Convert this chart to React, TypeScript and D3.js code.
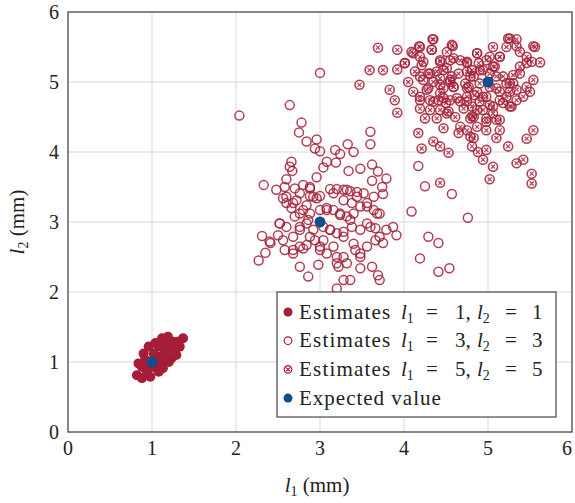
import React, { useEffect, useRef } from "react";
import * as d3 from "d3";

// estimates for l1 = 1, l2 = 1 (filled)
const est1: [number, number][] = [
  [0.84, 0.98], [0.82, 0.81], [0.88, 0.77], [0.94, 0.86], [0.92, 1.03], [0.96, 1.22],
  [1.02, 0.93], [1.08, 0.86], [1.13, 0.91], [1.1, 1.08], [1.15, 1.17], [1.12, 1.34],
  [1.19, 1.36], [1.25, 1.29], [1.27, 1.17], [1.23, 1.05], [1.2, 1.0], [1.37, 1.34],
  [1.31, 1.29], [1.04, 1.27], [1.02, 1.12], [1.17, 1.27], [1.29, 1.1], [1.06, 1.0],
  [0.98, 0.79], [1.0, 1.0], [0.88, 0.93], [0.9, 1.12], [1.21, 1.22], [1.13, 1.24],
  [1.08, 1.22], [1.33, 1.22], [1.17, 1.1], [0.96, 0.96], [1.1, 0.96], [1.15, 1.05],
];

// estimates for l1 = 3, l2 = 3 (open circles)
const est3: [number, number][] = [
  [2.04, 4.52], [2.64, 4.67], [2.78, 4.42], [2.75, 4.28], [2.84, 4.15], [2.96, 4.18],
  [2.94, 4.05], [3.0, 4.01], [3.18, 4.03], [3.24, 3.97], [3.33, 4.11], [3.4, 4.0],
  [3.6, 4.29], [3.6, 4.11], [3.08, 3.86], [3.19, 3.85], [3.04, 3.78], [2.66, 3.86],
  [2.64, 3.79], [2.67, 3.73], [2.33, 3.53], [2.48, 3.46], [2.6, 3.61], [2.58, 3.5],
  [2.7, 3.48], [2.8, 3.53], [2.88, 3.48], [2.96, 3.64], [2.88, 3.37], [2.92, 3.36],
  [3.0, 3.37], [3.12, 3.47], [3.2, 3.47], [3.28, 3.46], [3.36, 3.44], [3.44, 3.43],
  [3.52, 3.41], [3.64, 3.36], [3.75, 3.4], [3.34, 3.73], [3.48, 3.76], [3.62, 3.82],
  [3.69, 3.72], [3.79, 3.62], [3.62, 3.59], [2.56, 3.34], [2.6, 3.27], [2.66, 3.2],
  [2.72, 3.31], [2.76, 3.12], [2.84, 3.24], [2.88, 3.12], [3.0, 3.17], [3.08, 3.2],
  [3.16, 3.17], [3.24, 3.12], [3.32, 3.08], [3.4, 3.12], [3.48, 3.22], [3.56, 3.27],
  [3.64, 3.17], [3.71, 3.12], [3.28, 3.31], [3.38, 3.27], [2.52, 2.98], [2.6, 2.93],
  [2.68, 2.79], [2.76, 2.89], [2.84, 2.98], [2.92, 2.89], [3.04, 2.93], [3.12, 2.89],
  [3.2, 2.84], [3.28, 2.79], [3.38, 2.93], [3.48, 2.89], [3.56, 2.98], [3.66, 2.91],
  [3.79, 2.89], [3.87, 2.93], [3.91, 2.81], [2.31, 2.8], [2.41, 2.7], [2.5, 2.81],
  [2.58, 2.6], [2.68, 2.55], [2.76, 2.65], [2.84, 2.67], [2.94, 2.74], [3.0, 2.65],
  [3.08, 2.55], [3.16, 2.65], [3.2, 2.41], [3.28, 2.5], [3.32, 2.41], [3.42, 2.6],
  [3.48, 2.5], [3.56, 2.65], [3.66, 2.74], [3.75, 2.7], [2.27, 2.45], [2.35, 2.56],
  [2.76, 2.36], [2.86, 2.22], [2.98, 2.39], [3.22, 2.36], [3.28, 2.17], [3.36, 2.17],
  [3.48, 2.34], [3.62, 2.36], [3.69, 2.24], [3.71, 2.17], [3.2, 2.05], [4.09, 3.15],
  [4.19, 2.48], [4.29, 2.79], [4.41, 2.7], [4.41, 2.29], [4.54, 2.34], [4.76, 3.06],
  [3.74, 3.5], [4.17, 3.8], [4.25, 3.51], [4.57, 3.4], [3.0, 5.13],
  [2.6, 3.36], [2.68, 3.27], [2.76, 3.41], [2.88, 3.5], [2.96, 3.34], [2.8, 3.17],
  [2.7, 3.08], [2.76, 2.93], [2.86, 3.03], [3.08, 3.17], [3.16, 3.41], [3.32, 3.46],
  [3.44, 3.36], [3.24, 3.1], [3.36, 3.03], [3.28, 2.86], [3.12, 2.89], [3.04, 2.74],
  [2.88, 2.79], [2.56, 2.74], [2.52, 2.98], [2.4, 2.72], [2.68, 2.6], [2.8, 2.62],
  [3.4, 2.69], [3.48, 2.55], [3.2, 2.5], [3.0, 2.6], [3.6, 2.93], [3.68, 3.12],
  [3.56, 3.22], [3.71, 2.79],
];

// estimates for l1 = 5, l2 = 5 (crossed circles)
const est5: [number, number][] = [
  [3.69, 5.49], [3.92, 5.46], [3.59, 5.17], [3.75, 5.17], [3.92, 5.18], [4.01, 5.27],
  [4.09, 5.43], [4.18, 5.51], [4.34, 5.61], [4.33, 5.46], [4.19, 5.36], [4.21, 5.24],
  [4.13, 5.15], [4.29, 5.12], [3.47, 4.96], [3.83, 4.89], [3.89, 4.74], [3.92, 4.56],
  [4.05, 5.0], [4.11, 4.86], [4.19, 4.74], [4.19, 4.62], [4.31, 4.6], [4.39, 4.48],
  [4.41, 4.74], [4.47, 4.91], [4.43, 5.05], [4.51, 5.2], [4.55, 5.31], [4.58, 5.51],
  [4.51, 5.43], [4.43, 5.29], [4.39, 5.15], [4.55, 5.0], [4.59, 4.93], [4.63, 4.77],
  [4.5, 4.7], [4.51, 4.55], [4.61, 4.5], [4.47, 4.34], [4.17, 4.27], [4.35, 4.15],
  [4.43, 4.08], [4.53, 3.99], [4.21, 4.05], [4.65, 4.27], [4.75, 4.31], [4.79, 4.48],
  [4.81, 4.65], [4.75, 4.79], [4.77, 4.93], [4.75, 5.15], [4.75, 5.29], [4.87, 5.41],
  [4.89, 5.27], [4.83, 5.08], [4.87, 4.86], [4.9, 4.72], [4.94, 4.6], [4.98, 4.48],
  [4.87, 4.36], [4.83, 4.2], [4.81, 4.08], [4.88, 4.0], [4.98, 4.03], [4.94, 3.89],
  [5.06, 3.79], [5.02, 3.61], [5.1, 4.46], [5.14, 4.31], [5.24, 4.08], [5.34, 3.84],
  [5.42, 3.89], [5.52, 3.69], [5.52, 3.55], [5.46, 4.19], [5.54, 4.31], [5.02, 4.93],
  [5.1, 5.08], [5.06, 5.22], [5.02, 5.36], [5.06, 5.5], [5.14, 5.36], [5.22, 5.5],
  [5.24, 5.62], [5.34, 5.61], [5.38, 5.43], [5.46, 5.36], [5.56, 5.5], [5.52, 5.29],
  [5.62, 5.28], [5.38, 5.22], [5.3, 5.1], [5.22, 4.98], [5.14, 4.86], [5.26, 4.86],
  [5.34, 4.74], [5.26, 4.65], [5.46, 4.93], [5.54, 5.03], [5.5, 4.86], [5.18, 4.7],
  [5.06, 4.65], [4.98, 4.79], [5.02, 5.12], [4.94, 5.17], [4.67, 5.31], [4.65, 5.12],
  [4.71, 4.62], [4.29, 4.91], [4.31, 4.74], [4.43, 4.84], [4.25, 4.48], [4.83, 4.5],
  [4.79, 4.22], [4.67, 4.72], [4.73, 4.98], [4.81, 5.17], [4.9, 4.98], [5.14, 4.74],
  [5.3, 4.98], [4.55, 4.74], [4.57, 5.08], [4.23, 5.03], [4.35, 5.0], [4.43, 4.6],
  [4.98, 4.31], [5.1, 4.2], [4.43, 3.56],
  [4.35, 5.61], [4.19, 5.5], [4.33, 5.46], [4.11, 5.41], [4.01, 5.27], [4.23, 5.29],
  [4.43, 5.31], [4.57, 5.53], [4.59, 5.34], [4.47, 5.17], [4.31, 5.12], [4.19, 5.08],
  [4.55, 5.03], [4.59, 4.93], [4.43, 4.96], [4.27, 4.89], [4.19, 4.79], [4.35, 4.72],
  [4.47, 4.77], [4.53, 4.58], [4.75, 5.27], [4.87, 5.41], [4.98, 5.31], [5.08, 5.22],
  [5.14, 5.36], [4.9, 5.17], [4.79, 5.08], [4.75, 4.91], [4.84, 4.81], [4.75, 4.72],
  [4.94, 4.79], [5.02, 4.67], [4.87, 4.6], [5.1, 4.91], [5.18, 5.08], [5.26, 4.98],
  [5.22, 4.79], [5.28, 4.65], [5.38, 5.12], [5.46, 5.27], [5.54, 5.51], [5.26, 5.62],
  [5.34, 5.51], [5.42, 4.79], [5.14, 4.46], [4.98, 4.43], [4.81, 4.51], [4.67, 4.36],
  [5.06, 4.55], [5.34, 4.89],
];

const expected: [number, number][] = [[1, 1], [3, 3], [5, 5]];

const ticks = [0, 1, 2, 3, 4, 5, 6];
const legendLabels = [
  ["1", "1"],
  ["3", "3"],
  ["5", "5"],
];

const red = "#a51d36";
const blue = "#124e8c";
const font = "Liberation Serif, DejaVu Serif, serif";

export default function App() {
  const ref = useRef<SVGSVGElement>(null);

  useEffect(() => {
    const svg = d3.select(ref.current);
    svg.selectAll("*").remove();

    const x = d3.scaleLinear().domain([0, 6]).range([68, 572]);
    const y = d3.scaleLinear().domain([0, 6]).range([432, 12]);

    // grid
    const grid = svg.append("g").attr("stroke", "#d9d9d9").attr("stroke-width", 1);
    grid.selectAll(".gx").data(ticks.slice(1, -1)).join("line")
      .attr("x1", d => x(d)).attr("x2", d => x(d)).attr("y1", y(0)).attr("y2", y(6));
    grid.selectAll(".gy").data(ticks.slice(1, -1)).join("line")
      .attr("class", "gy")
      .attr("y1", d => y(d)).attr("y2", d => y(d)).attr("x1", x(0)).attr("x2", x(6));

    // tick labels
    svg.append("g").selectAll("text").data(ticks).join("text")
      .attr("x", d => Math.min(x(d), 567)).attr("y", y(0) + 23)
      .attr("text-anchor", "middle").attr("font-family", font).attr("font-size", 20)
      .attr("fill", "#222").text(d => d);
    svg.append("g").selectAll("text").data(ticks).join("text")
      .attr("x", x(0) - 9).attr("y", d => y(d) + 7)
      .attr("text-anchor", "end").attr("font-family", font).attr("font-size", 20)
      .attr("fill", "#222").text(d => d);

    // estimates 3 (open)
    svg.append("g").selectAll("circle").data(est3).join("circle")
      .attr("cx", d => x(d[0])).attr("cy", d => y(d[1])).attr("r", 4.5)
      .attr("fill", "none").attr("stroke", red).attr("stroke-width", 1.5).attr("stroke-opacity", 0.85);

    // estimates 5 (crossed)
    const cross = svg.append("g").selectAll("g").data(est5).join("g")
      .attr("transform", d => `translate(${x(d[0])},${y(d[1])})`)
      .attr("stroke", red).attr("stroke-width", 1.6).attr("stroke-opacity", 0.85).attr("fill", "none");
    cross.append("circle").attr("r", 4.5);
    cross.append("path").attr("d", "M-2,-2L2,2M-2,2L2,-2").attr("stroke-width", 1.2);

    // estimates 1 (filled)
    svg.append("g").selectAll("circle").data(est1).join("circle")
      .attr("cx", d => x(d[0])).attr("cy", d => y(d[1])).attr("r", 5)
      .attr("fill", red);

    // expected values
    svg.append("g").selectAll("circle").data(expected).join("circle")
      .attr("cx", d => x(d[0])).attr("cy", d => y(d[1])).attr("r", 5.5)
      .attr("fill", blue);

    // frame
    svg.append("rect").attr("x", x(0)).attr("y", y(6))
      .attr("width", x(6) - x(0)).attr("height", y(0) - y(6))
      .attr("fill", "none").attr("stroke", "#555").attr("stroke-width", 1.4);

    // legend
    const leg = svg.append("g").attr("transform", "translate(277,292)");
    leg.append("rect").attr("width", 279).attr("height", 125)
      .attr("fill", "white").attr("stroke", "#555").attr("stroke-width", 1.3);
    const rowY = (i: number) => 20 + i * 28.7;
    const mx = 11;
    leg.append("circle").attr("cx", mx).attr("cy", rowY(0)).attr("r", 4.5).attr("fill", red);
    leg.append("circle").attr("cx", mx).attr("cy", rowY(1)).attr("r", 3.8)
      .attr("fill", "none").attr("stroke", red).attr("stroke-width", 1.2);
    const lc = leg.append("g").attr("transform", `translate(${mx},${rowY(2)})`)
      .attr("stroke", red).attr("stroke-width", 1.2).attr("fill", "none");
    lc.append("circle").attr("r", 3.8);
    lc.append("path").attr("d", "M-1.8,-1.8L1.8,1.8M-1.8,1.8L1.8,-1.8");
    leg.append("circle").attr("cx", mx).attr("cy", rowY(3)).attr("r", 4.5).attr("fill", blue);

    legendLabels.forEach((v, i) => {
      const t = leg.append("text").attr("y", rowY(i) + 6.5)
        .attr("font-family", font).attr("font-size", 21).attr("fill", "#222");
      t.append("tspan").attr("x", 22).attr("letter-spacing", 1.2).text("Estimates");
      t.append("tspan").attr("x", 124).attr("font-style", "italic").text("l");
      t.append("tspan").attr("font-size", 14).attr("dy", 4).text("1");
      t.append("tspan").attr("x", 149).attr("dy", -4).text("=");
      t.append("tspan").attr("x", 178).text(`${v[0]},`);
      t.append("tspan").attr("x", 200).attr("font-style", "italic").text("l");
      t.append("tspan").attr("font-size", 14).attr("dy", 4).text("2");
      t.append("tspan").attr("x", 228).attr("dy", -4).text("=");
      t.append("tspan").attr("x", 255).text(v[1]);
    });
    leg.append("text").attr("x", 22).attr("y", rowY(3) + 6.5)
      .attr("font-family", font).attr("font-size", 21).attr("fill", "#222")
      .attr("letter-spacing", 1.0)
      .text("Expected value");

    // axis labels
    const xl = svg.append("text").attr("x", 317).attr("y", 492).attr("text-anchor", "middle")
      .attr("font-family", font).attr("font-size", 21).attr("fill", "#222");
    xl.append("tspan").attr("font-style", "italic").text("l");
    xl.append("tspan").attr("font-size", 14).attr("dy", 4).text("1");
    xl.append("tspan").attr("dy", -4).text("  (mm)");

    const yl = svg.append("text").attr("transform", "translate(24,222) rotate(-90)")
      .attr("text-anchor", "middle")
      .attr("font-family", font).attr("font-size", 21).attr("fill", "#222");
    yl.append("tspan").attr("font-style", "italic").text("l");
    yl.append("tspan").attr("font-size", 14).attr("dy", 4).text("2");
    yl.append("tspan").attr("dy", -4).text("  (mm)");
  }, []);

  return (
    <svg ref={ref} width={575} height={503}
      style={{ position: "absolute", left: 0, top: 0, background: "white" }} />
  );
}
